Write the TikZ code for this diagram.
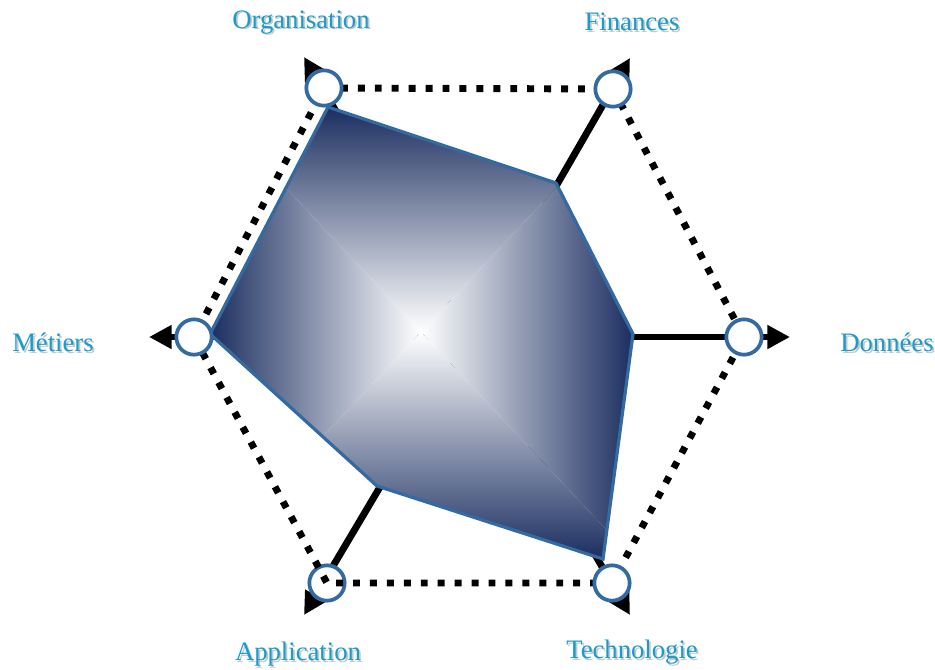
\documentclass[tikz,border=0pt]{standalone}
\usepackage{fontspec}
\setmainfont{Liberation Serif}
\usetikzlibrary{arrows.meta}
\definecolor{labelblue}{RGB}{24,155,205}
\definecolor{rimblue}{RGB}{52,106,162}
\definecolor{navy}{RGB}{27,46,96}
\definecolor{midgray}{RGB}{182,184,200}
\newcommand{\shtext}[1]{\rlap{\kern1.3pt\raisebox{-1.3pt}{\textcolor{black!22}{#1}}}#1}

\begin{document}
\begin{tikzpicture}[x=0.75pt,y=-0.75pt,
    axis/.style={line width=5.2pt,-{Triangle[length=17pt,width=17pt]}},
    rim/.style={line width=5.2pt,dash pattern=on 5.2pt off 7.5pt},
    knob/.style={circle,draw=rimblue,line width=2.8pt,fill=white,minimum size=26.5pt,inner sep=0pt},
    axlabel/.style={text=labelblue,font=\fontsize{20}{24}\selectfont}]
    \useasboundingbox (0,0) rectangle (935,669);

    % Axis points
    \coordinate (c) at (469,337);
    \coordinate (org) at (324,88);
    \coordinate (fin) at (613,89);
    \coordinate (don) at (744,337);
    \coordinate (tec) at (612,583);
    \coordinate (app) at (327,583);
    \coordinate (met) at (194,337);

    % Arrow tips
    \coordinate (torg) at (304,57);
    \coordinate (tfin) at (630,58);
    \coordinate (tdon) at (790,337);
    \coordinate (ttec) at (630,615);
    \coordinate (tapp) at (304,615);
    \coordinate (tmet) at (149,337);

    % Axes
    \draw[axis] (c) -- (torg);
    \draw[axis] (c) -- (tfin);
    \draw[axis] (c) -- (tdon);
    \draw[axis] (c) -- (ttec);
    \draw[axis] (c) -- (tapp);
    \draw[axis] (c) -- (tmet);
    \node[knob] (kapp) at (app) {};

    % Dotted hexagon
    \draw[rim] (org) -- (fin) -- (don) -- (tec) -- (app) -- (met) -- cycle;

    % Values
    \coordinate (p1) at (328,107);
    \coordinate (p2) at (556,183);
    \coordinate (p3) at (633,334);
    \coordinate (p4) at (603,559);
    \coordinate (p5) at (377,486);
    \coordinate (p6) at (210,334);
    \begin{scope}
        \clip (p1) -- (p2) -- (p3) -- (p4) -- (p5) -- (p6) -- cycle;
        \begin{scope}
            \clip (208,105) -- (634,105) -- (421,332) -- cycle;
            \shade[top color=navy,middle color=midgray,bottom color=white] (208,107) rectangle (634,332);
        \end{scope}
        \begin{scope}
            \clip (208,559) -- (634,559) -- (421,332) -- cycle;
            \shade[top color=white,middle color=midgray,bottom color=navy] (208,332) rectangle (634,559);
        \end{scope}
        \begin{scope}
            \clip (208,105) -- (208,559) -- (421,332) -- cycle;
            \shade[left color=navy,middle color=midgray,right color=white] (210,105) rectangle (421,559);
        \end{scope}
        \begin{scope}
            \clip (634,105) -- (634,559) -- (421,332) -- cycle;
            \shade[left color=white,middle color=midgray,right color=navy] (421,105) rectangle (633,559);
        \end{scope}
    \end{scope}
    \draw[rimblue,line width=2.4pt,line join=miter] (p1) -- (p2) -- (p3) -- (p4) -- (p5) -- (p6) -- cycle;

    % Knobs
    \node[knob] (korg) at (org) {};
    \node[knob] (kfin) at (fin) {};
    \node[knob] (kdon) at (don) {};
    \node[knob] (ktec) at (tec) {};
    \node[knob] (kmet) at (met) {};

    % Labels
    \node[axlabel] (lorg) at (301,23) {\shtext{Organisation}};
    \node[axlabel] (lfin) at (632,23) {\shtext{Finances}};
    \node[axlabel] (ldon) at (887,343) {\shtext{Données}};
    \node[axlabel] (ltec) at (632,653) {\shtext{Technologie}};
    \node[axlabel] (lapp) at (298,655) {\shtext{Application}};
    \node[axlabel] (lmet) at (53,343) {\shtext{Métiers}};
\end{tikzpicture}
\end{document}
